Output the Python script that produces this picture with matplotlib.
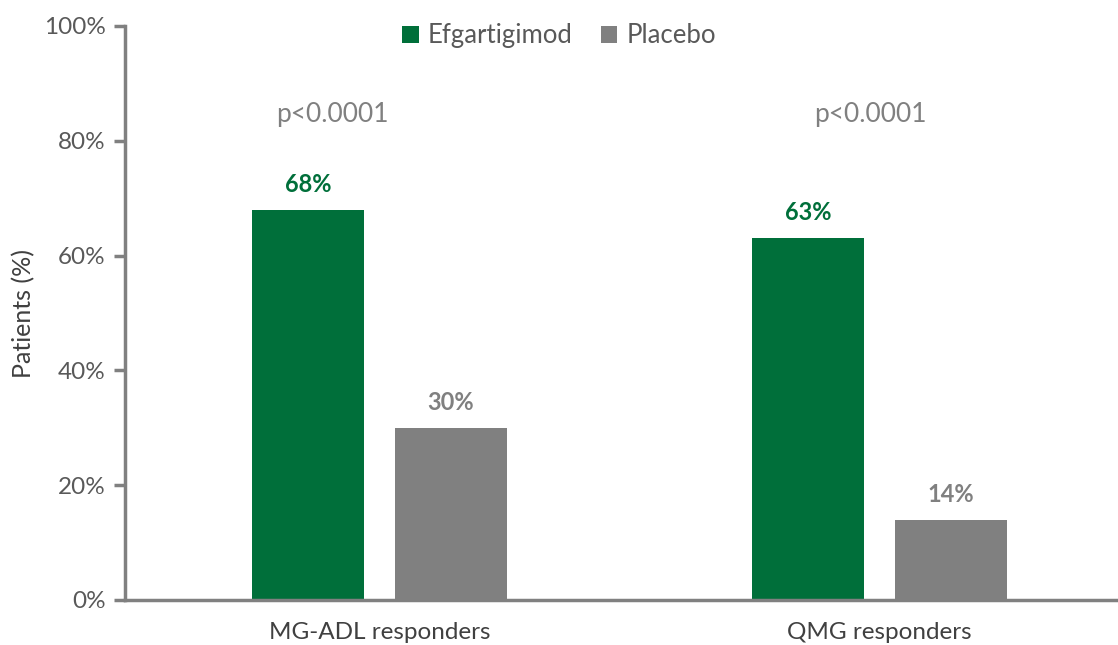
import matplotlib
matplotlib.use("Agg")
import matplotlib.pyplot as plt
import numpy as np

categories = ["MG-ADL responders", "QMG responders"]
efgartigimod = [68, 63]
placebo = [30, 14]
p_values = ["p<0.0001", "p<0.0001"]
y_ticks = [0, 20, 40, 60, 80, 100]

GREEN = "#006f3a"
GRAY = "#808080"
TEXT = "#595959"

plt.rcParams["font.family"] = ["Lato", "DejaVu Sans"]

fig = plt.figure(figsize=(11.18, 6.45), dpi=100)
ax = fig.add_axes([125 / 1118, 1 - 600 / 645, 1 - 125 / 1118, (600 - 26) / 645])

x = np.arange(len(categories))
width = 0.224
offset = 0.143

ax.bar(x - offset, efgartigimod, width, color=GREEN, label="Efgartigimod")
ax.bar(x + offset, placebo, width, color=GRAY, label="Placebo")

for xi, v in zip(x, efgartigimod):
    ax.annotate(f"{v}%", (xi - offset, v), xytext=(0, 10), textcoords="offset points",
                ha="center", va="bottom", color=GREEN, fontsize=17, fontweight="bold")
for xi, v in zip(x, placebo):
    ax.annotate(f"{v}%", (xi + offset, v), xytext=(0, 10), textcoords="offset points",
                ha="center", va="bottom", color=GRAY, fontsize=17, fontweight="bold")

p_x = [-0.095, 0.981]
for px, txt in zip(p_x, p_values):
    ax.text(px, 84.5, txt, ha="center", va="center", color=GRAY, fontsize=19)

ax.set_xlim(-0.509, 1.477)
ax.set_ylim(0, 100)
ax.set_yticks(y_ticks)
ax.set_yticklabels([f"{t}%" for t in y_ticks])
ax.set_xticks(x)
ax.set_xticklabels(categories, fontsize=17.5, color="#404040")
ax.tick_params(axis="x", length=0, pad=16)
ax.tick_params(axis="y", direction="out", length=8, width=2.5, color=GRAY,
               labelsize=17.5, labelcolor=TEXT, pad=6)

for s in ["top", "right"]:
    ax.spines[s].set_visible(False)
for s in ["left", "bottom"]:
    ax.spines[s].set_color(GRAY)
    ax.spines[s].set_linewidth(2.5)

ax.set_ylabel("Patients (%)", fontsize=18, color="#404040", labelpad=6)

leg = ax.legend(loc="upper center", bbox_to_anchor=(0.437, 1.045), ncol=2, frameon=False,
                fontsize=18.5, handlelength=0.65, handleheight=0.65, handletextpad=0.35,
                columnspacing=1.1, labelcolor=TEXT)

fig.savefig("out.png", dpi=100)
